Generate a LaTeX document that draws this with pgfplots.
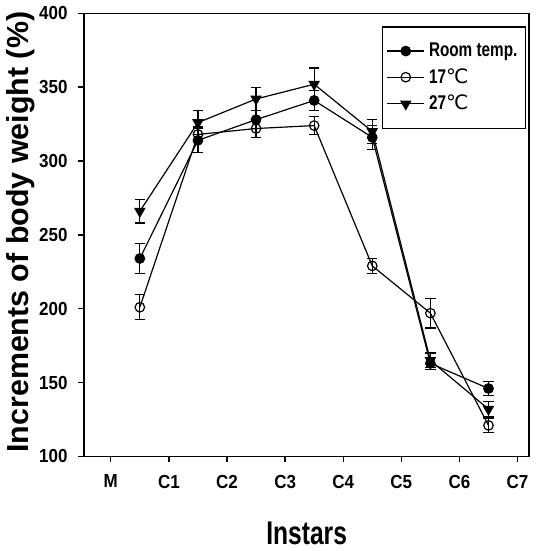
\documentclass[border=0pt]{standalone}
\usepackage{pgfplots}
\pgfplotsset{compat=1.18}
\usepackage{fontspec}
\setmainfont{Liberation Sans}
\newfontfamily\ticksfont[FakeStretch=0.9]{Liberation Sans}
\newfontfamily\legfont[FakeStretch=0.77]{Liberation Sans}
\newfontfamily\xlabfont[FakeStretch=0.75]{Liberation Sans}
\newfontfamily\dejavu{DejaVu Sans}

\begin{document}
\begin{tikzpicture}
\begin{axis}[
  scale only axis,
  width=224pt, height=223pt,
  xmin=-0.46, xmax=7.2, ymin=100, ymax=400,
  xtick={0,...,7},
  xticklabels={M,C1,C2,C3,C4,C5,C6,C7},
  ytick={100,150,...,400},
  tick pos=left, tick align=outside,
  major tick length=2.8pt,
  axis line style={line width=0.8pt},
  every tick/.style={black,line width=0.7pt},
  /pgf/number format/assume math mode=true,
  ticklabel style={font=\ticksfont\bfseries\fontsize{9.5}{10}\selectfont},
  xticklabel style={yshift=-3pt},
  yticklabel style={xshift=-2pt},
  xlabel={Instars},
  xlabel style={font=\xlabfont\bfseries\fontsize{16.5}{18}\selectfont,
    at={(axis description cs:0.5,0)}, anchor=center, yshift=-38.5pt},
  ylabel={Increments of body weight (\%)},
  ylabel style={font=\bfseries\fontsize{15.3}{17}\selectfont,
    at={(axis description cs:-0.142,0.506)}, anchor=center},
  legend style={at={(rel axis cs:0.993,0.971)}, anchor=north east,
    draw=black, line width=0.7pt, inner xsep=2pt, inner ysep=6pt,
    row sep=0.5pt, font=\legfont\bfseries\fontsize{10}{11}\selectfont,
    cells={anchor=west}},
  legend image code/.code={%
    \draw[mark repeat=2,mark phase=2]
      plot coordinates {(0cm,0cm) (0.33cm,0cm) (0.66cm,0cm)};},
  every axis plot/.append style={line width=0.6pt, black},
  error bars/error bar style={line width=0.6pt},
  error bars/error mark options={rotate=90, mark size=2.6pt, line width=0.6pt},
]
\addplot[mark=*, mark size=2.4pt, mark options={fill=black},
  error bars/.cd, y dir=both, y explicit]
coordinates {
  (0.5,234) +- (0,10)
  (1.5,314) +- (0,8)
  (2.5,328) +- (0,6)
  (3.5,341) +- (0,7)
  (4.5,316) +- (0,8)
  (5.5,163) +- (0,4)
  (6.5,146) +- (0,5)
};
\addlegendentry{Room temp.}
\addplot[mark=o, mark size=2.4pt, mark options={fill=white},
  error bars/.cd, y dir=both, y explicit]
coordinates {
  (0.5,201) +- (0,8.5)
  (1.5,318) +- (0,5)
  (2.5,322) +- (0,6)
  (3.5,324) +- (0,6)
  (4.5,229) +- (0,5)
  (5.5,197) +- (0,10)
  (6.5,121) +- (0,5)
};
\addlegendentry{17{\dejavu\mdseries ℃}}
\addplot[mark=triangle*, mark size=2.8pt, mark options={fill=black, rotate=180},
  error bars/.cd, y dir=both, y explicit]
coordinates {
  (0.5,266) +- (0,8)
  (1.5,326) +- (0,8)
  (2.5,342) +- (0,8)
  (3.5,352) +- (0,11)
  (4.5,320) +- (0,8)
  (5.5,165) +- (0,5)
  (6.5,132) +- (0,5)
};
\addlegendentry{27{\dejavu\mdseries ℃}}
\end{axis}
\path ([xshift=-41pt,yshift=-46.5pt]current axis.south west)
  rectangle ([xshift=4pt,yshift=6pt]current axis.north east);
\end{tikzpicture}
\end{document}
